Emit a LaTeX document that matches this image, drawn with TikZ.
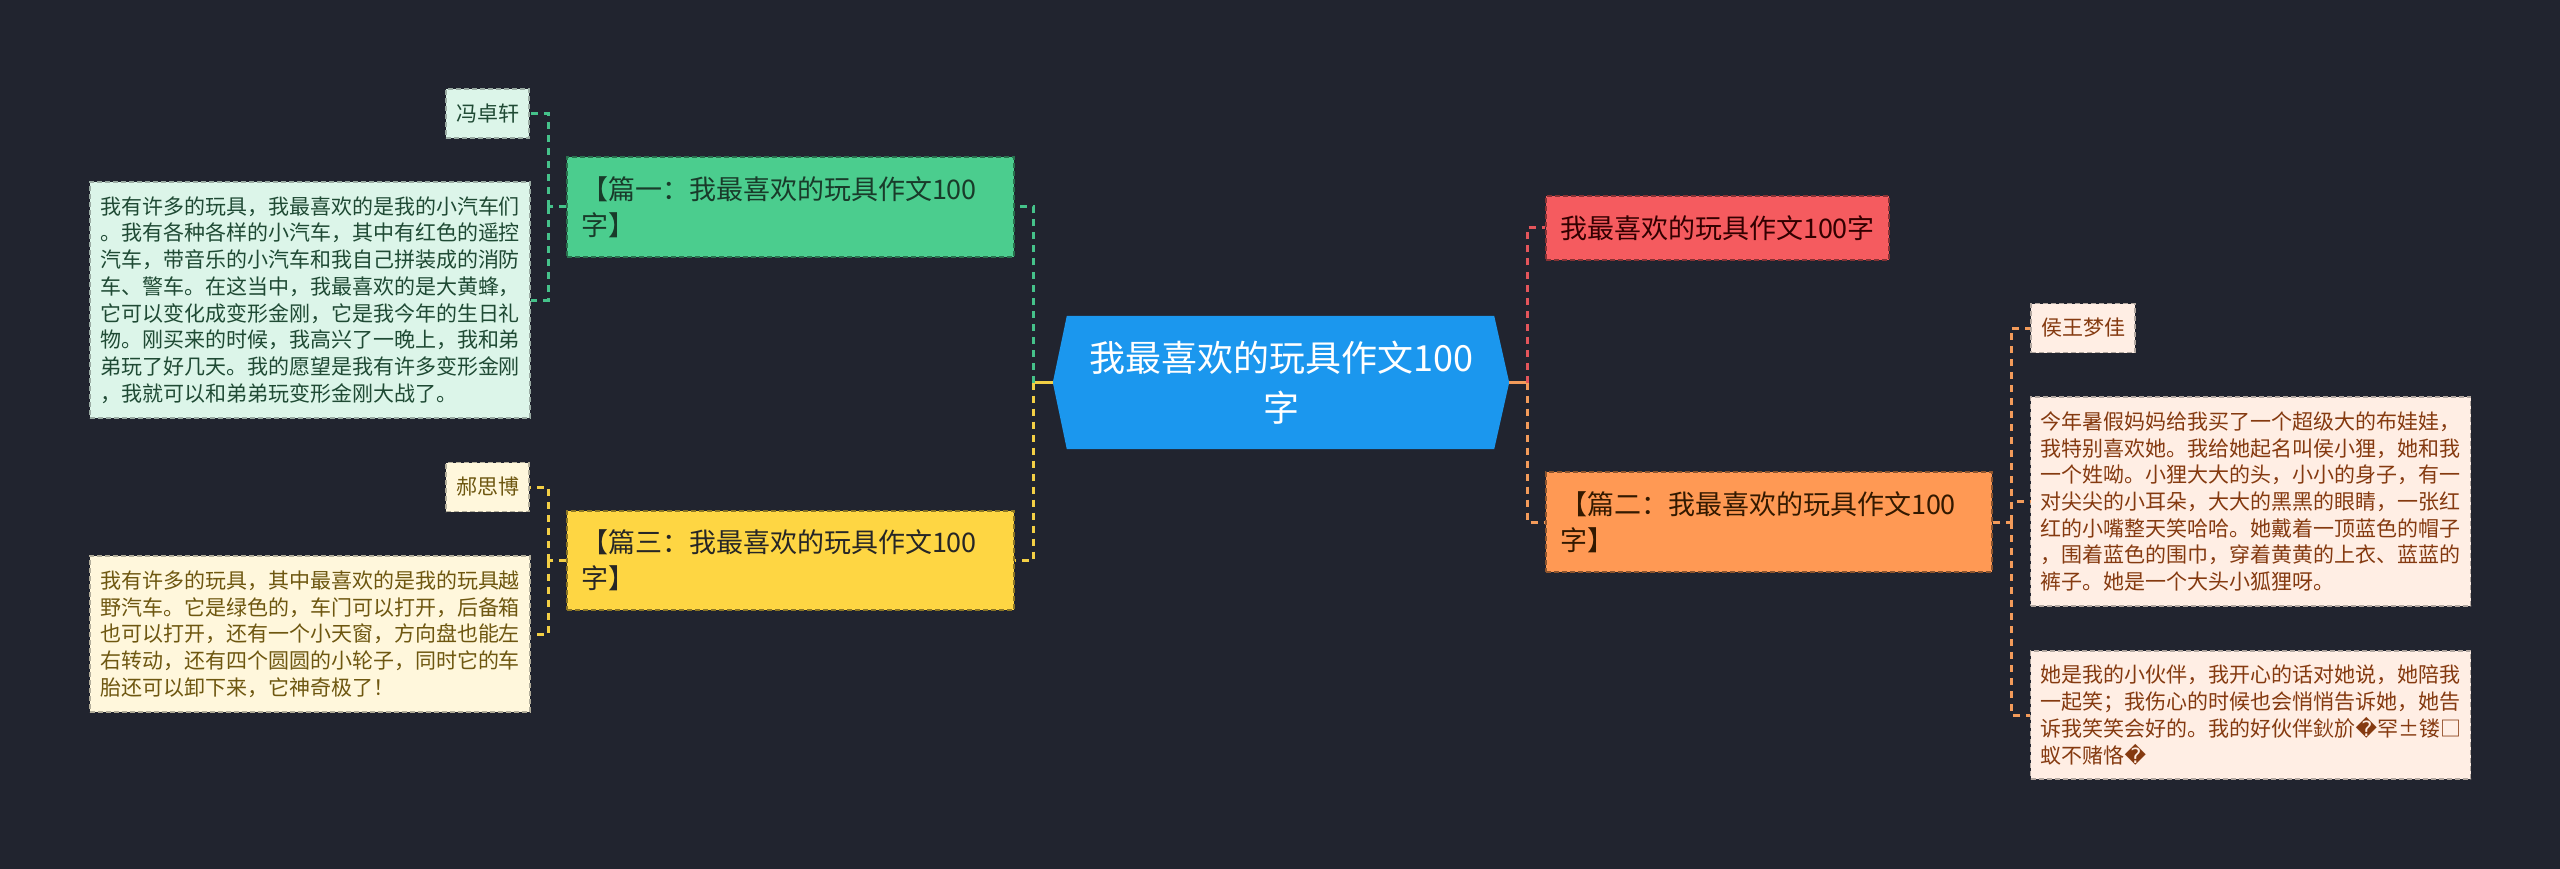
\documentclass[tikz,border=0pt]{standalone}
\usepackage{fontspec}
\setmainfont{Noto Sans CJK SC}
\newfontfamily\djv{DejaVu Sans}
\usetikzlibrary{backgrounds}
\definecolor{bg}{HTML}{21242F}
\definecolor{cblue}{HTML}{1B97EE}
\definecolor{cgreen}{HTML}{4BCD8E}
\definecolor{cyellow}{HTML}{FED643}
\definecolor{cred}{HTML}{F55B5F}
\definecolor{corange}{HTML}{FF9954}
\definecolor{lgreen}{HTML}{DCF5E9}
\definecolor{lyellow}{HTML}{FFF7DC}
\definecolor{lorange}{HTML}{FFEEE4}
\definecolor{tgreen}{HTML}{1F4A34}
\definecolor{tyellow}{HTML}{6E5710}
\definecolor{torange}{HTML}{853A10}
\definecolor{lngreen}{HTML}{45C28A}
\definecolor{lnyellow}{HTML}{F3CF45}
\definecolor{lnred}{HTML}{E4555B}
\definecolor{lnorange}{HTML}{F39B5A}
\begin{document}
\begin{tikzpicture}[x=1pt,y=-1pt,
  rootnode/.style={minimum width=456pt,minimum height=133pt,inner sep=0pt,align=center,text=white,
    font=\fontsize{36pt}{50pt}\selectfont},
  branch/.style={draw=#1!55!black,fill=#1,dash pattern=on 5pt off 3pt,line width=1.5pt,
    inner xsep=14pt,inner ysep=0pt,align=left,text=black!80,font=\fontsize{27pt}{36pt}\selectfont},
  leaf/.style={draw=#1!70!black,dash pattern=on 5pt off 3pt,line width=1.5pt,
    inner xsep=10pt,inner ysep=0pt,align=left,text width=420pt,
    font=\fontsize{21pt}{26.7pt}\selectfont},
  namebox/.style={draw=#1!70!black,dash pattern=on 5pt off 3pt,line width=1.5pt,
    inner xsep=10pt,inner ysep=0pt,minimum height=49pt,
    font=\fontsize{21pt}{26.7pt}\selectfont},
  conn/.style={line width=3pt,dash pattern=on 7pt off 6pt},
  stem/.style={line width=3pt}
]
\useasboundingbox (0,0) rectangle (2560,869);

% root
\node[rootnode] (root) at (1281,382.5) {我最喜欢的玩具作文100\\字};
\begin{scope}[on background layer]
\fill[bg] (0,0) rectangle (2560,869);
\fill[cblue] (root.west) -- ([xshift=14pt]root.north west) -- ([xshift=-15pt]root.north east)
  -- (root.east) -- ([xshift=-15pt]root.south east) -- ([xshift=14pt]root.south west) -- cycle;
\end{scope}

% branches
\node[branch=cgreen,text width=419pt,minimum height=100pt,text=tgreen!80!black] (g1) at (790.5,207)
  {【篇一：我最喜欢的玩具作文100\\字】};
\node[branch=cyellow,text width=419pt,minimum height=99pt,text=black!85] (g3) at (790.5,560.5)
  {【篇三：我最喜欢的玩具作文100\\字】};
\node[branch=cred,text width=315pt,minimum height=64pt,text=black!80!red] (r) at (1717.5,228)
  {我最喜欢的玩具作文100字};
\node[branch=corange,text width=418pt,minimum height=100pt,text=black!80!orange] (o2) at (1769,522)
  {【篇二：我最喜欢的玩具作文100\\字】};

% left leaves (green)
\node[namebox=lgreen,fill=lgreen,text=tgreen] (n1) at (487.5,113.5) {冯卓轩};
\node[leaf=lgreen,fill=lgreen,text=tgreen,minimum height=236pt] (t1) at (310,300)
  {我有许多的玩具，我最喜欢的是我的小汽车们\\
  。我有各种各样的小汽车，其中有红色的遥控\\
  汽车，带音乐的小汽车和我自己拼装成的消防\\
  车、警车。在这当中，我最喜欢的是大黄蜂，\\
  它可以变化成变形金刚，它是我今年的生日礼\\
  物。刚买来的时候，我高兴了一晚上，我和弟\\
  弟玩了好几天。我的愿望是我有许多变形金刚\\
  ，我就可以和弟弟玩变形金刚大战了。};

% left leaves (yellow)
\node[namebox=lyellow,fill=lyellow,text=tyellow] (n3) at (487.5,487) {郝思博};
\node[leaf=lyellow,fill=lyellow,text=tyellow,minimum height=156pt] (t3) at (310,634)
  {我有许多的玩具，其中最喜欢的是我的玩具越\\
  野汽车。它是绿色的，车门可以打开，后备箱\\
  也可以打开，还有一个小天窗，方向盘也能左\\
  右转动，还有四个圆圆的小轮子，同时它的车\\
  胎还可以卸下来，它神奇极了！};

% right leaves (orange)
\node[namebox=lorange,fill=lorange,text=torange] (n2) at (2083,328) {侯王梦佳};
\node[leaf=lorange,fill=lorange,text=torange,minimum height=209pt] (t2a) at (2250.5,501.5)
  {今年暑假妈妈给我买了一个超级大的布娃娃，\\
  我特别喜欢她。我给她起名叫侯小狸，她和我\\
  一个姓呦。小狸大大的头，小小的身子，有一\\
  对尖尖的小耳朵，大大的黑黑的眼睛，一张红\\
  红的小嘴整天笑哈哈。她戴着一顶蓝色的帽子\\
  ，围着蓝色的围巾，穿着黄黄的上衣、蓝蓝的\\
  裤子。她是一个大头小狐狸呀。};
\node[leaf=lorange,fill=lorange,text=torange,minimum height=128pt] (t2b) at (2250.5,715)
  {她是我的小伙伴，我开心的话对她说，她陪我\\
  一起笑；我伤心的时候也会悄悄告诉她，她告\\
  诉我笑笑会好的。我的好伙伴鈥斺{\djv �}罕±镂□\\
  蚁不赌恪{\djv �}};

% junctions
\coordinate (jl) at (1033,382.5);
\coordinate (jr) at (1527,382.5);
\coordinate (gl) at (548,207);
\coordinate (yl) at (548,560.5);
\coordinate (ol) at (2011,522);

% root connectors
\draw[stem,lnyellow] (root.west) -- (jl);
\draw[conn,lngreen] (jl) |- (g1.east);
\draw[conn,lnyellow] (jl) |- (g3.east);
\draw[stem,lnorange] (root.east) -- (jr);
\draw[conn,lnred] (jr) |- (r.west);
\draw[conn,lnorange] (jr) |- (o2.west);

% green sub connectors
\draw[conn,lngreen] (g1.west) -- (gl);
\draw[conn,lngreen] (gl) |- (n1.east);
\draw[conn,lngreen] (gl) |- (t1.east);
% yellow
\draw[conn,lnyellow] (g3.west) -- (yl);
\draw[conn,lnyellow] (yl) |- (n3.east);
\draw[conn,lnyellow] (yl) |- (t3.east);
% orange
\draw[conn,lnorange] (o2.east) -- (ol);
\draw[conn,lnorange] (ol) |- (n2.west);
\draw[conn,lnorange] (ol) |- (t2a.west);
\draw[conn,lnorange] (ol) |- (t2b.west);
\end{tikzpicture}
\end{document}
